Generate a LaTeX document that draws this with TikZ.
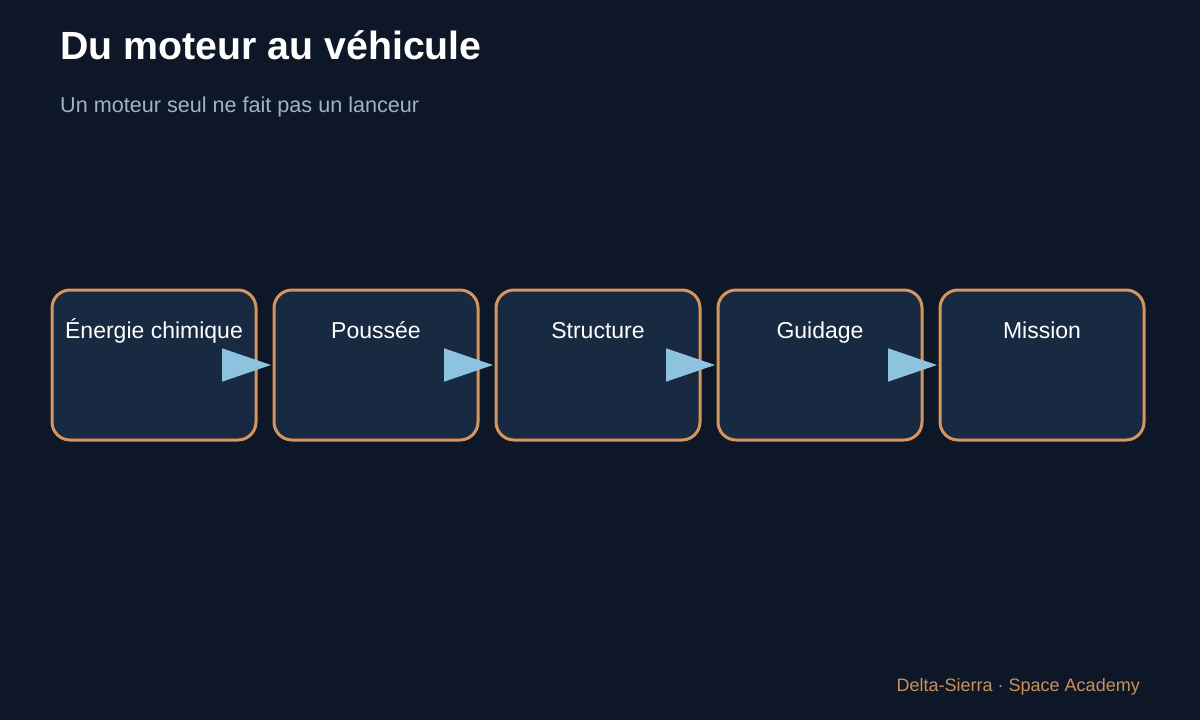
\documentclass[tikz,border=0pt]{standalone}
\usepackage{fontspec}
\setmainfont{Liberation Sans}
\usetikzlibrary{arrows.meta}
\definecolor{bg}{HTML}{0E1727}
\definecolor{boxfill}{HTML}{182942}
\definecolor{boxborder}{HTML}{D4965C}
\definecolor{arrowc}{HTML}{8EC3E0}
\definecolor{subc}{HTML}{9FB3C8}
\definecolor{footc}{HTML}{C8915A}
\begin{document}
\begin{tikzpicture}[x=1pt,y=-1pt,
  stagebox/.style={draw=boxborder,fill=boxfill,line width=3pt,rounded corners=18pt,
    minimum width=204pt,minimum height=150pt,inner sep=0pt,outer sep=0pt},
  stagelabel/.style={text=white,font=\fontsize{23}{27}\selectfont,inner sep=0pt,anchor=base},
  flow/.style={draw=arrowc,line width=1.5pt,shorten >=3pt,
    -{Triangle[length=49pt,width=33pt,fill=arrowc]}}]
\fill[bg] (0,0) rectangle (1200,720);
\useasboundingbox (0,0) rectangle (1200,720);
\node[anchor=base west,text=white,font=\bfseries\fontsize{39.3}{44}\selectfont,inner sep=0pt] (title) at (60,59) {Du moteur au véhicule};
\node[anchor=base west,text=subc,font=\fontsize{21.6}{25}\selectfont,inner sep=0pt] (sub) at (60,112) {Un moteur seul ne fait pas un lanceur};
\foreach \i/\x/\t in {1/154/Énergie chimique,2/376/Poussée,3/598/Structure,4/820/Guidage,5/1042/Mission}{
  \node[stagebox] (b\i) at (\x,365) {};
  \node[stagelabel] (l\i) at (\x,338) {\t};
}
\foreach \i/\j in {1/2,2/3,3/4,4/5}{
  \draw[flow] (b\i.east) -- (b\j.west);
}
\node[anchor=base east,text=footc,font=\fontsize{18}{21}\selectfont,inner sep=0pt] (foot) at (1140,691) {Delta-Sierra · Space Academy};
\end{tikzpicture}
\end{document}
